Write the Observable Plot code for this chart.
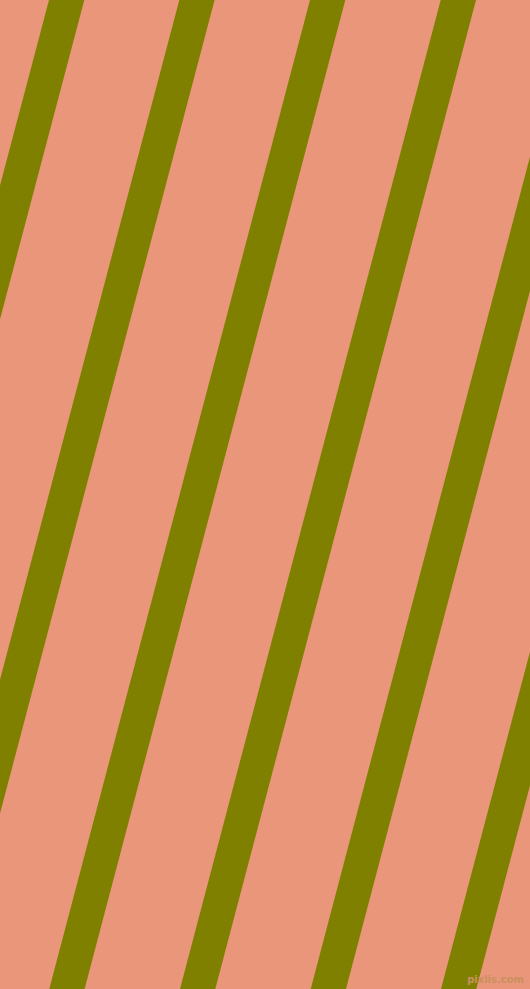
<!DOCTYPE html>
<html><head><meta charset="utf-8">
<script src="https://cdn.jsdelivr.net/npm/d3@7"></script>
<script src="https://cdn.jsdelivr.net/npm/@observablehq/plot@0.6"></script>
<style>
html,body{margin:0;padding:0;background:#E9967A;overflow:hidden}
#c{position:relative;width:530px;height:989px}
#wm{position:absolute;right:6px;bottom:4px;font:bold 10px "DejaVu Sans",sans-serif;color:#C9905E;letter-spacing:0}
</style></head><body><div id="c"></div>
<script>
// stripe left edges read at top (y=0) and bottom (y=989)
const stripeIds = [0, 1, 2, 3, 4, 5, 6, 7];
const topLeftX = [-212.1, -81.6, 49, 179.3, 310, 440.7, 571.3, 701.9];
const bottomLeftX = [-473.2, -342.7, -212.1, -81.6, 49.3, 180, 310.7, 441];
const stripeWidth = 35.3;
const yTop = 0, yBottom = 989;

const rows = [];
stripeIds.forEach((id, i) => {
  rows.push({id, y: yTop, x1: topLeftX[i], x2: topLeftX[i] + stripeWidth});
  rows.push({id, y: yBottom, x1: bottomLeftX[i], x2: bottomLeftX[i] + stripeWidth});
});

const chart = Plot.plot({
  width: 530, height: 989,
  margin: 0,
  x: {domain: [0, 530], axis: null},
  y: {domain: [0, 989], reverse: true, axis: null},
  style: {background: "#E9967A", overflow: "hidden"},
  marks: [
    Plot.areaX(rows, {y: "y", x1: "x1", x2: "x2", z: "id", fill: "#808000", curve: "linear"})
  ]
});
const c = document.getElementById("c");
c.appendChild(chart);
const wm = document.createElement("div");
wm.id = "wm"; wm.textContent = "pixlis.com";
c.appendChild(wm);
</script></body></html>
